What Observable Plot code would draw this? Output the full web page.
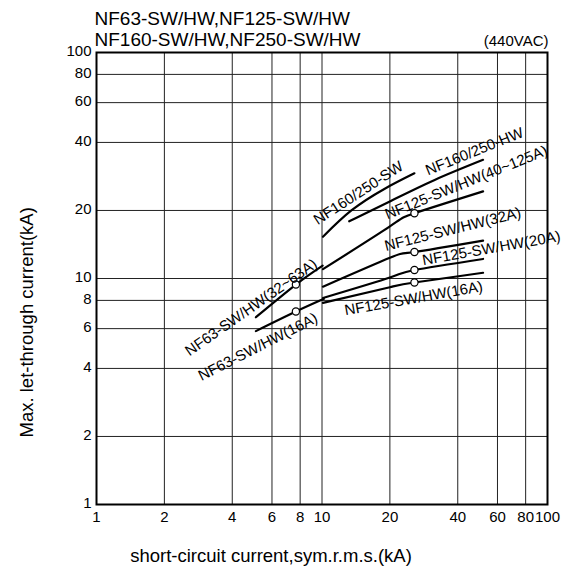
<!DOCTYPE html>
<html>
<head>
<meta charset="utf-8">
<script src="https://cdn.jsdelivr.net/npm/d3@7"></script>
<script src="https://cdn.jsdelivr.net/npm/@observablehq/plot@0.6"></script>
<style>
  html, body { margin: 0; padding: 0; background: #fff; }
</style>
</head>
<body>
<div id="chart"></div>
<script>
// ---- tick values ----
const xTicks = [1, 2, 4, 6, 8, 10, 20, 40, 60, 80, 100];
const yTicks = [1, 2, 4, 6, 8, 10, 20, 40, 60, 80, 100];

// ---- curves (short-circuit current kA -> let-through current kA) ----
const nf160sw_x = [10.1, 13.5, 18.9, 25.7];
const nf160sw_y = [15.3, 20.0, 24.9, 29.2];

const nf160hw_x = [13.2, 20.3, 31.6, 51.8];
const nf160hw_y = [17.9, 22.1, 27.3, 33.5];

const nf125_40_x = [10.1, 20, 25.7, 51.8];
const nf125_40_y = [11.0, 17.0, 19.45, 24.3];

const nf125_32_x = [10.1, 20, 25.7, 51.8];
const nf125_32_y = [9.2, 12.35, 13.1, 14.7];

const nf125_20_x = [10.1, 20, 25.7, 51.8];
const nf125_20_y = [8.2, 10.1, 10.9, 12.2];

const nf125_16_x = [10.1, 20, 25.7, 51.8];
const nf125_16_y = [7.8, 9.15, 9.6, 10.6];

const nf63_32_x = [5.09, 7.66, 10.07];
const nf63_32_y = [6.74, 9.4, 11.4];

const nf63_16_x = [5.09, 7.66, 10.2];
const nf63_16_y = [5.85, 7.14, 8.13];

// ---- open-circle markers ----
const markerX = [7.66, 7.66, 25.7, 25.7, 25.7, 25.7];
const markerY = [9.4, 7.14, 19.45, 13.1, 10.9, 9.6];

// ---- curve labels ----
const labelText = ["NF160/250-SW", "NF160/250-HW", "NF125-SW/HW(40~125A)", "NF125-SW/HW(32A)",
                   "NF125-SW/HW(20A)", "NF125-SW/HW(16A)", "NF63-SW/HW(32~63A)", "NF63-SW/HW(16A)"];
const labelX = [14.5, 47.4, 43.6, 38.0, 56.4, 25.5, 4.85, 5.2];
const labelY = [23.9, 36.5, 26.6, 16.5, 13.6, 8.16, 7.44, 4.98];
const labelAngle = [-33, -22, -22, -14, -10, -10, -35, -27];

// ---- texts ----
const titleLines = ["NF63-SW/HW,NF125-SW/HW", "NF160-SW/HW,NF250-SW/HW"];
const voltageText = "(440VAC)";
const xLabel = "short-circuit current,sym.r.m.s.(kA)";
const yLabel = "Max. let-through current(kA)";

// ---- build tables ----
const series = [
  ["NF160/250-SW", nf160sw_x, nf160sw_y],
  ["NF160/250-HW", nf160hw_x, nf160hw_y],
  ["NF125(40~125A)", nf125_40_x, nf125_40_y],
  ["NF125(32A)", nf125_32_x, nf125_32_y],
  ["NF125(20A)", nf125_20_x, nf125_20_y],
  ["NF125(16A)", nf125_16_x, nf125_16_y],
  ["NF63(32~63A)", nf63_32_x, nf63_32_y],
  ["NF63(16A)", nf63_16_x, nf63_16_y]
];
const lineRows = series.flatMap(([name, xs, ys]) => xs.map((x, i) => ({name, x, y: ys[i]})));
const markerRows = markerX.map((x, i) => ({x, y: markerY[i]}));
const labelRows = labelText.map((t, i) => ({t, x: labelX[i], y: labelY[i], a: labelAngle[i]}));

const font = "'Liberation Sans', Arial, Helvetica, sans-serif";

const chart = Plot.plot({
  width: 575,
  height: 572,
  marginLeft: 96,
  marginRight: 28,
  marginTop: 52,
  marginBottom: 68,
  style: {fontFamily: font, fontSize: "15px", color: "#000", background: "#fff"},
  x: {type: "log", domain: [1, 100], axis: null},
  y: {type: "log", domain: [1, 100], axis: null},
  marks: [
    Plot.gridX(xTicks, {stroke: "#222", strokeOpacity: 1, strokeWidth: 1}),
    Plot.gridY(yTicks, {stroke: "#222", strokeOpacity: 1, strokeWidth: 1}),
    // tick labels
    Plot.text(xTicks, {x: d => d, text: d => String(d), frameAnchor: "bottom", lineAnchor: "middle", dy: 13, fontSize: 15, fill: "#000"}),
    Plot.text(yTicks, {y: d => d, text: d => String(d), frameAnchor: "left", textAnchor: "end", lineAnchor: "middle", dx: -5, dy: -1, fontSize: 15, fill: "#000"}),
    Plot.frame({stroke: "#000", strokeWidth: 2}),
    Plot.line(lineRows, {x: "x", y: "y", z: "name", curve: "natural", stroke: "#000", strokeWidth: 2.2}),
    Plot.dot(markerRows, {x: "x", y: "y", r: 3.6, fill: "#fff", stroke: "#000", strokeWidth: 1.2}),
    Plot.text(labelRows, {x: "x", y: "y", text: "t", rotate: "a", fontSize: 15, fill: "#000", textAnchor: "middle", lineAnchor: "middle"}),
    // titles
    Plot.text([titleLines[0]], {frameAnchor: "top-left", textAnchor: "start", lineAnchor: "bottom", dx: -2, dy: -28, fontSize: 19}),
    Plot.text([titleLines[1]], {frameAnchor: "top-left", textAnchor: "start", lineAnchor: "bottom", dx: -2, dy: -7, fontSize: 19}),
    Plot.text([voltageText], {frameAnchor: "top-right", textAnchor: "end", lineAnchor: "bottom", dx: 1, dy: -7, fontSize: 15}),
    // axis labels
    Plot.text([xLabel], {frameAnchor: "bottom", textAnchor: "middle", lineAnchor: "middle", dx: -51, dy: 52, fontSize: 18.5}),
    Plot.text([yLabel], {frameAnchor: "bottom-left", textAnchor: "start", lineAnchor: "middle", rotate: -90, dx: -69, dy: -67, fontSize: 18.5})
  ]
});

document.getElementById("chart").appendChild(chart);
</script>
</body>
</html>
